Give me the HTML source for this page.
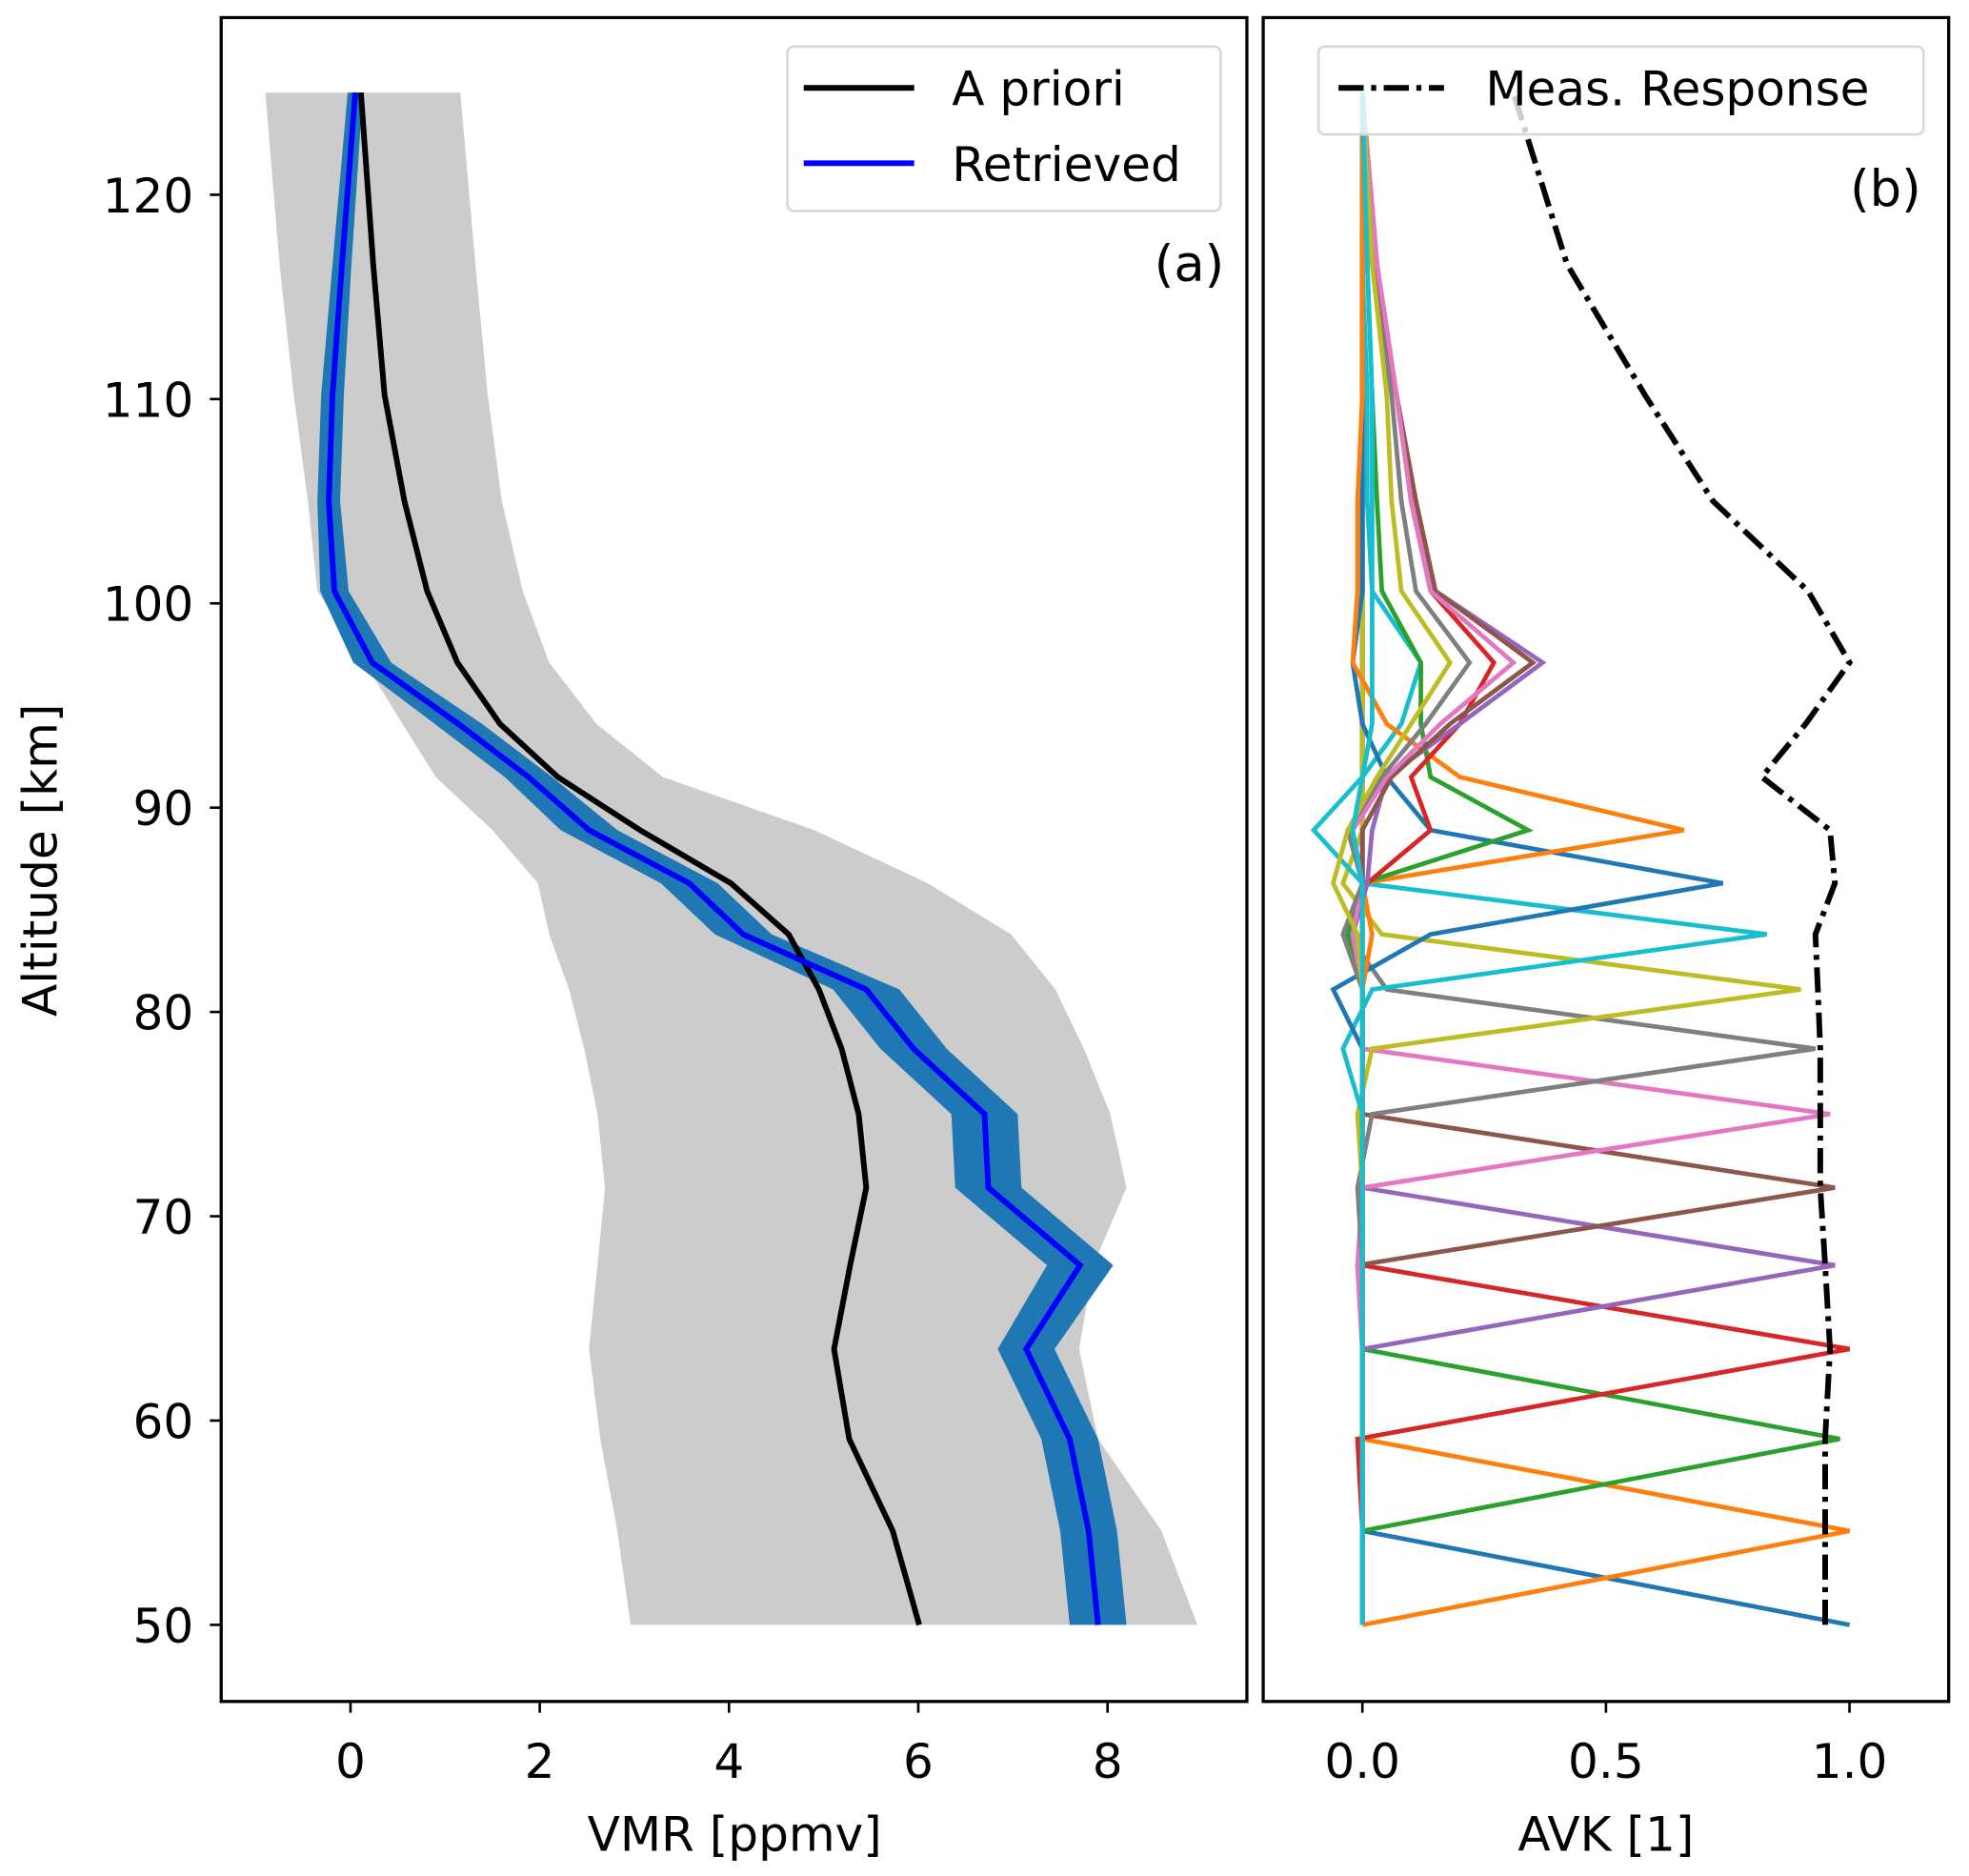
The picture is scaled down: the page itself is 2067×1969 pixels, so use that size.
<!DOCTYPE html>
<html><head><meta charset="utf-8"><style>
html,body{margin:0;padding:0;background:#fff}
svg{display:block}
text{font-family:"DejaVu Sans","Liberation Sans",sans-serif;fill:#000}
</style></head><body>
<svg id="chart" width="2067" height="1969" viewBox="0 0 1568 1494" xmlns="http://www.w3.org/2000/svg">
<g id="pa"></g>
<g id="pb"></g>
</svg>
<script>
const altitudes=[50,54.6,59.1,63.5,67.6,71.4,75,78.2,81.1,83.8,86.3,88.9,91.5,94.1,97.1,100.6,105,110.2,116.6,125];
const apriori=[6.01,5.73,5.27,5.11,5.28,5.45,5.37,5.19,4.95,4.63,4.02,3.06,2.19,1.58,1.13,0.81,0.57,0.36,0.24,0.11];
const retrieved=[7.9,7.8,7.6,7.14,7.71,6.74,6.7,5.95,5.45,4.15,3.58,2.52,1.88,1.14,0.23,-0.17,-0.23,-0.19,-0.09,0.05];
const retrievedErr=[0.3,0.3,0.3,0.3,0.35,0.35,0.35,0.35,0.35,0.3,0.3,0.3,0.25,0.25,0.2,0.15,0.12,0.12,0.1,0.08];
const bandLow=[2.96,2.82,2.64,2.52,2.61,2.69,2.61,2.47,2.31,2.1,1.98,1.5,0.9,0.55,0.15,-0.35,-0.45,-0.6,-0.75,-0.9];
const bandHigh=[8.95,8.57,7.9,7.7,7.85,8.2,8.03,7.75,7.45,6.98,6.1,4.9,3.3,2.6,2.1,1.82,1.6,1.45,1.32,1.16];
const vmrTicks=[0,2,4,6,8];
const altTicks=[50,60,70,80,90,100,110,120];
const avkTicks=[0,0.5,1.0];
const avkTickLabels=["0.0","0.5","1.0"];
const measResponse=[0.95,0.95,0.95,0.96,0.95,0.94,0.94,0.94,0.935,0.93,0.97,0.96,0.82,0.91,1.0,0.915,0.72,0.58,0.42,0.31];
const k0=[1.0,0,0,0,0,0,0,0,0,0,0,0,0,0,0,0,0,0,0,0];
const k1=[0,1.0,0,0,0,0,0,0,0,0,0,0,0,0,0,0,0,0,0,0];
const k2=[0,0,0.98,0,0,0,0,0,0,0,0,0,0,0,0,0,0,0,0,0];
const k3=[0,0,-0.01,1.0,0,0,0,0,0,0,0,0,0,0,0,0,0,0,0,0];
const k4=[0,0,0,0,0.97,0,0,0,0,0,0,0,0,0,0,0,0,0,0,0];
const k5=[0,0,0,0,-0.01,0.97,0,0,0,0,0,0,0,0,0,0,0,0,0,0];
const k6=[0,0,0,0,-0.01,0,0.96,0,0,0,0,0,0,0,0,0,0,0,0,0];
const k7=[0,0,0,0,0,-0.01,0.02,0.93,0.05,-0.03,0,0,0,0,0,0,0,0,0,0];
const k8=[0,0,0,0,0,0,-0.01,0.02,0.9,0.04,-0.04,0,0,0,0,0,0,0,0,0];
const k9=[0,0,0,0,0,0,0,-0.04,0.02,0.83,0.0,-0.1,0.0,0.08,0.12,0.02,0.01,0.01,0,0];
const k10=[0,0,0,0,0,0,0,0,-0.06,0.14,0.74,0.14,0.05,0.0,-0.02,0,0,0,0,0];
const k11=[0,0,0,0,0,0,0,0,0,0.02,0.0,0.66,0.2,0.05,-0.02,-0.01,-0.01,0,0,0];
const k12=[0,0,0,0,0,0,0,0,0,-0.03,0.0,0.34,0.14,0.12,0.12,0.04,0.03,0.02,0.01,0];
const k13=[0,0,0,0,0,0,0,0,0,-0.02,0.01,0.14,0.1,0.2,0.27,0.14,0.1,0.07,0.02,0];
const k14=[0,0,0,0,0,0,0,0,0,-0.02,0.01,0.02,0.05,0.2,0.37,0.15,0.11,0.07,0.03,0];
const k15=[0,0,0,0,0,0,0,0,0,-0.02,0.0,0.0,0.06,0.18,0.35,0.15,0.11,0.07,0.03,0];
const k16=[0,0,0,0,0,0,0,0,0,-0.02,0.0,-0.02,0.05,0.16,0.31,0.14,0.1,0.07,0.03,0];
const k17=[0,0,0,0,0,0,0,0,0,-0.04,0.0,-0.03,0.04,0.13,0.22,0.11,0.08,0.06,0.02,0];
const k18=[0,0,0,0,0,0,0,0,0,-0.01,-0.06,-0.03,0.03,0.1,0.18,0.08,0.06,0.05,0.02,0];
const k19=[0,0,0,0,0,0,0,0,0,0,0,-0.02,0.0,0.02,0.02,0.02,0.02,0.02,0.01,0];
const kernels=[k0,k1,k2,k3,k4,k5,k6,k7,k8,k9,k10,k11,k12,k13,k14,k15,k16,k17,k18,k19];
const colors=["#1f77b4","#ff7f0e","#2ca02c","#d62728","#9467bd","#8c564b","#e377c2","#7f7f7f","#bcbd22","#17becf"];

const NS="http://www.w3.org/2000/svg";
function mk(parent,tag,attrs,txt){const e=document.createElementNS(NS,tag);for(const k in attrs)e.setAttribute(k,attrs[k]);if(txt!==undefined)e.textContent=txt;parent.appendChild(e);return e;}
const Y=a=>1294-(a-50)*16.27;
const XA=v=>279+v*75.375;
const XB=v=>1085+v*388;
const pa=document.getElementById('pa'), pb=document.getElementById('pb');
const FS=38;

// Panel A
let pts=altitudes.map((a,i)=>XA(bandLow[i])+','+Y(a)).concat(altitudes.map((a,i)=>XA(bandHigh[i])+','+Y(a)).reverse());
let e=mk(pa,'polygon',{points:pts.join(' '),fill:'#cccccc'});


pts=altitudes.map((a,i)=>XA(retrieved[i]-retrievedErr[i])+','+Y(a)).concat(altitudes.map((a,i)=>XA(retrieved[i]+retrievedErr[i])+','+Y(a)).reverse());
e=mk(pa,'polygon',{points:pts.join(' '),fill:'#1f77b4'});


e=mk(pa,'polyline',{points:altitudes.map((a,i)=>XA(apriori[i])+','+Y(a)).join(' '),fill:'none',stroke:'#000','stroke-width':4.5});


e=mk(pa,'polyline',{points:altitudes.map((a,i)=>XA(retrieved[i])+','+Y(a)).join(' '),fill:'none',stroke:'#0000ff','stroke-width':4.5});


e=mk(pa,'rect',{x:176,y:14,width:817,height:1341,fill:'none',stroke:'#000','stroke-width':2.5});


vmrTicks.forEach(t=>{const x=XA(t);
 let l=mk(pa,'line',{x1:x,x2:x,y1:1355,y2:1364,stroke:'#000','stroke-width':2});
 
 
 let tx=mk(pa,'text',{x:x,y:1416,'font-size':FS,'text-anchor':'middle'},String(t));
 
 });
altTicks.forEach(t=>{const y=Y(t);
 let l=mk(pa,'line',{x1:167,x2:176,y1:y,y2:y,stroke:'#000','stroke-width':2});
 
 
 let tx=mk(pa,'text',{x:154,y:y+14,'font-size':FS,'text-anchor':'end'},String(t));
 
 });
e=mk(pa,'text',{x:585,y:1474,'font-size':FS,'text-anchor':'middle'},'VMR [ppmv]');


e=mk(pa,'text',{x:0,y:0,'font-size':FS,'text-anchor':'middle',transform:'translate(45,685) rotate(-90)'},'Altitude [km]');


e=mk(pa,'text',{x:975,y:224,'font-size':FS+2,'text-anchor':'end'},'(a)');


let lg=mk(pa,'g',{});


mk(lg,'rect',{x:627,y:37,width:345,height:131,rx:5,fill:'#fff','fill-opacity':0.8,stroke:'#d8d8d8','stroke-width':2});
e=mk(lg,'line',{x1:640,x2:728,y1:70,y2:70,stroke:'#000','stroke-width':4.5});


mk(lg,'text',{x:758,y:84,'font-size':FS},'A priori');
e=mk(lg,'line',{x1:640,x2:728,y1:130,y2:130,stroke:'#0000ff','stroke-width':4.5});


mk(lg,'text',{x:758,y:144,'font-size':FS},'Retrieved');

// Panel B
kernels.forEach((k,i)=>{
 let l=mk(pb,'polyline',{points:altitudes.map((a,j)=>XB(k[j])+','+Y(a)).join(' '),fill:'none',stroke:colors[i%10],'stroke-width':3.6});
 
 
});
e=mk(pb,'polyline',{points:altitudes.map((a,i)=>XB(measResponse[i])+','+Y(a)).join(' '),fill:'none',stroke:'#000','stroke-width':4.5,'stroke-dasharray':'20 6 4 6'});


e=mk(pb,'rect',{x:1006,y:14,width:546,height:1341,fill:'none',stroke:'#000','stroke-width':2.5});


avkTicks.forEach((t,i)=>{const x=XB(t);
 let l=mk(pb,'line',{x1:x,x2:x,y1:1355,y2:1364,stroke:'#000','stroke-width':2});
 
 
 let tx=mk(pb,'text',{x:x,y:1416,'font-size':FS,'text-anchor':'middle'},avkTickLabels[i]);
 
 });
e=mk(pb,'text',{x:1279,y:1474,'font-size':FS,'text-anchor':'middle'},'AVK [1]');


e=mk(pb,'text',{x:1530,y:164,'font-size':FS+2,'text-anchor':'end'},'(b)');


lg=mk(pb,'g',{});


mk(lg,'rect',{x:1050,y:37,width:482,height:70,rx:5,fill:'#fff','fill-opacity':0.8,stroke:'#d8d8d8','stroke-width':2});
e=mk(lg,'line',{x1:1066,x2:1150,y1:70,y2:70,stroke:'#000','stroke-width':4.5,'stroke-dasharray':'20 6 4 6'});


mk(lg,'text',{x:1183,y:84,'font-size':FS},'Meas. Response');
</script>
</body></html>
